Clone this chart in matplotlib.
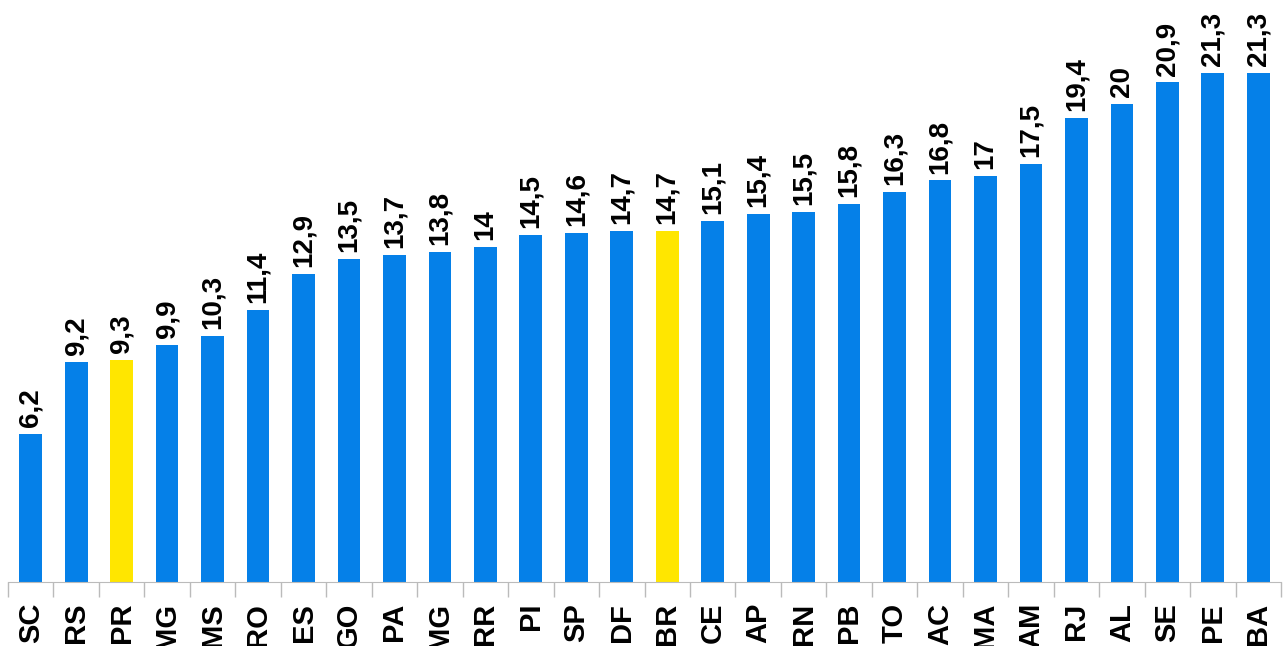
import matplotlib.pyplot as plt

estados = ["SC", "RS", "PR", "MG", "MS", "RO", "ES", "GO", "PA", "MG", "RR", "PI",
           "SP", "DF", "BR", "CE", "AP", "RN", "PB", "TO", "AC", "MA", "AM", "RJ",
           "AL", "SE", "PE", "BA"]
valores = [6.2, 9.2, 9.3, 9.9, 10.3, 11.4, 12.9, 13.5, 13.7, 13.8, 14, 14.5,
           14.6, 14.7, 14.7, 15.1, 15.4, 15.5, 15.8, 16.3, 16.8, 17, 17.5, 19.4,
           20, 20.9, 21.3, 21.3]
destaque = ["PR", "BR"]

azul = "#0580E8"
amarelo = "#FFE600"

plt.rcParams["font.family"] = ["Liberation Sans", "DejaVu Sans"]

fig = plt.figure(figsize=(12.88, 6.46), dpi=100)
ax = fig.add_axes([8 / 1288, 64 / 646, 1273 / 1288, 582 / 646])

cores = [amarelo if e in destaque else azul for e in estados]
x = list(range(len(estados)))
ax.bar(x, valores, width=0.5, color=cores)

for xi, v in zip(x, valores):
    txt = ("%g" % v).replace(".", ",")
    ax.annotate(txt, (xi, v), xytext=(0, 5), textcoords="offset points",
                rotation=90, ha="center", va="bottom", fontsize=20,
                fontweight="bold", annotation_clip=False)

ax.set_xlim(-0.5, len(estados) - 0.5)
ax.set_ylim(0, 24.35)
ax.set_xticks(x)
ax.set_xticklabels(estados, rotation=90, fontsize=21, fontweight="bold", va="top")
ax.set_xticks([i - 0.5 for i in range(len(estados) + 1)], minor=True)
ax.tick_params(axis="x", which="major", length=0, pad=15)
ax.tick_params(axis="x", which="minor", length=11, color="#BBBBBB", width=1)
ax.set_yticks([])
for s in ["top", "right", "left"]:
    ax.spines[s].set_visible(False)
ax.spines["bottom"].set_color("#BBBBBB")

fig.savefig("out.png", dpi=100)
